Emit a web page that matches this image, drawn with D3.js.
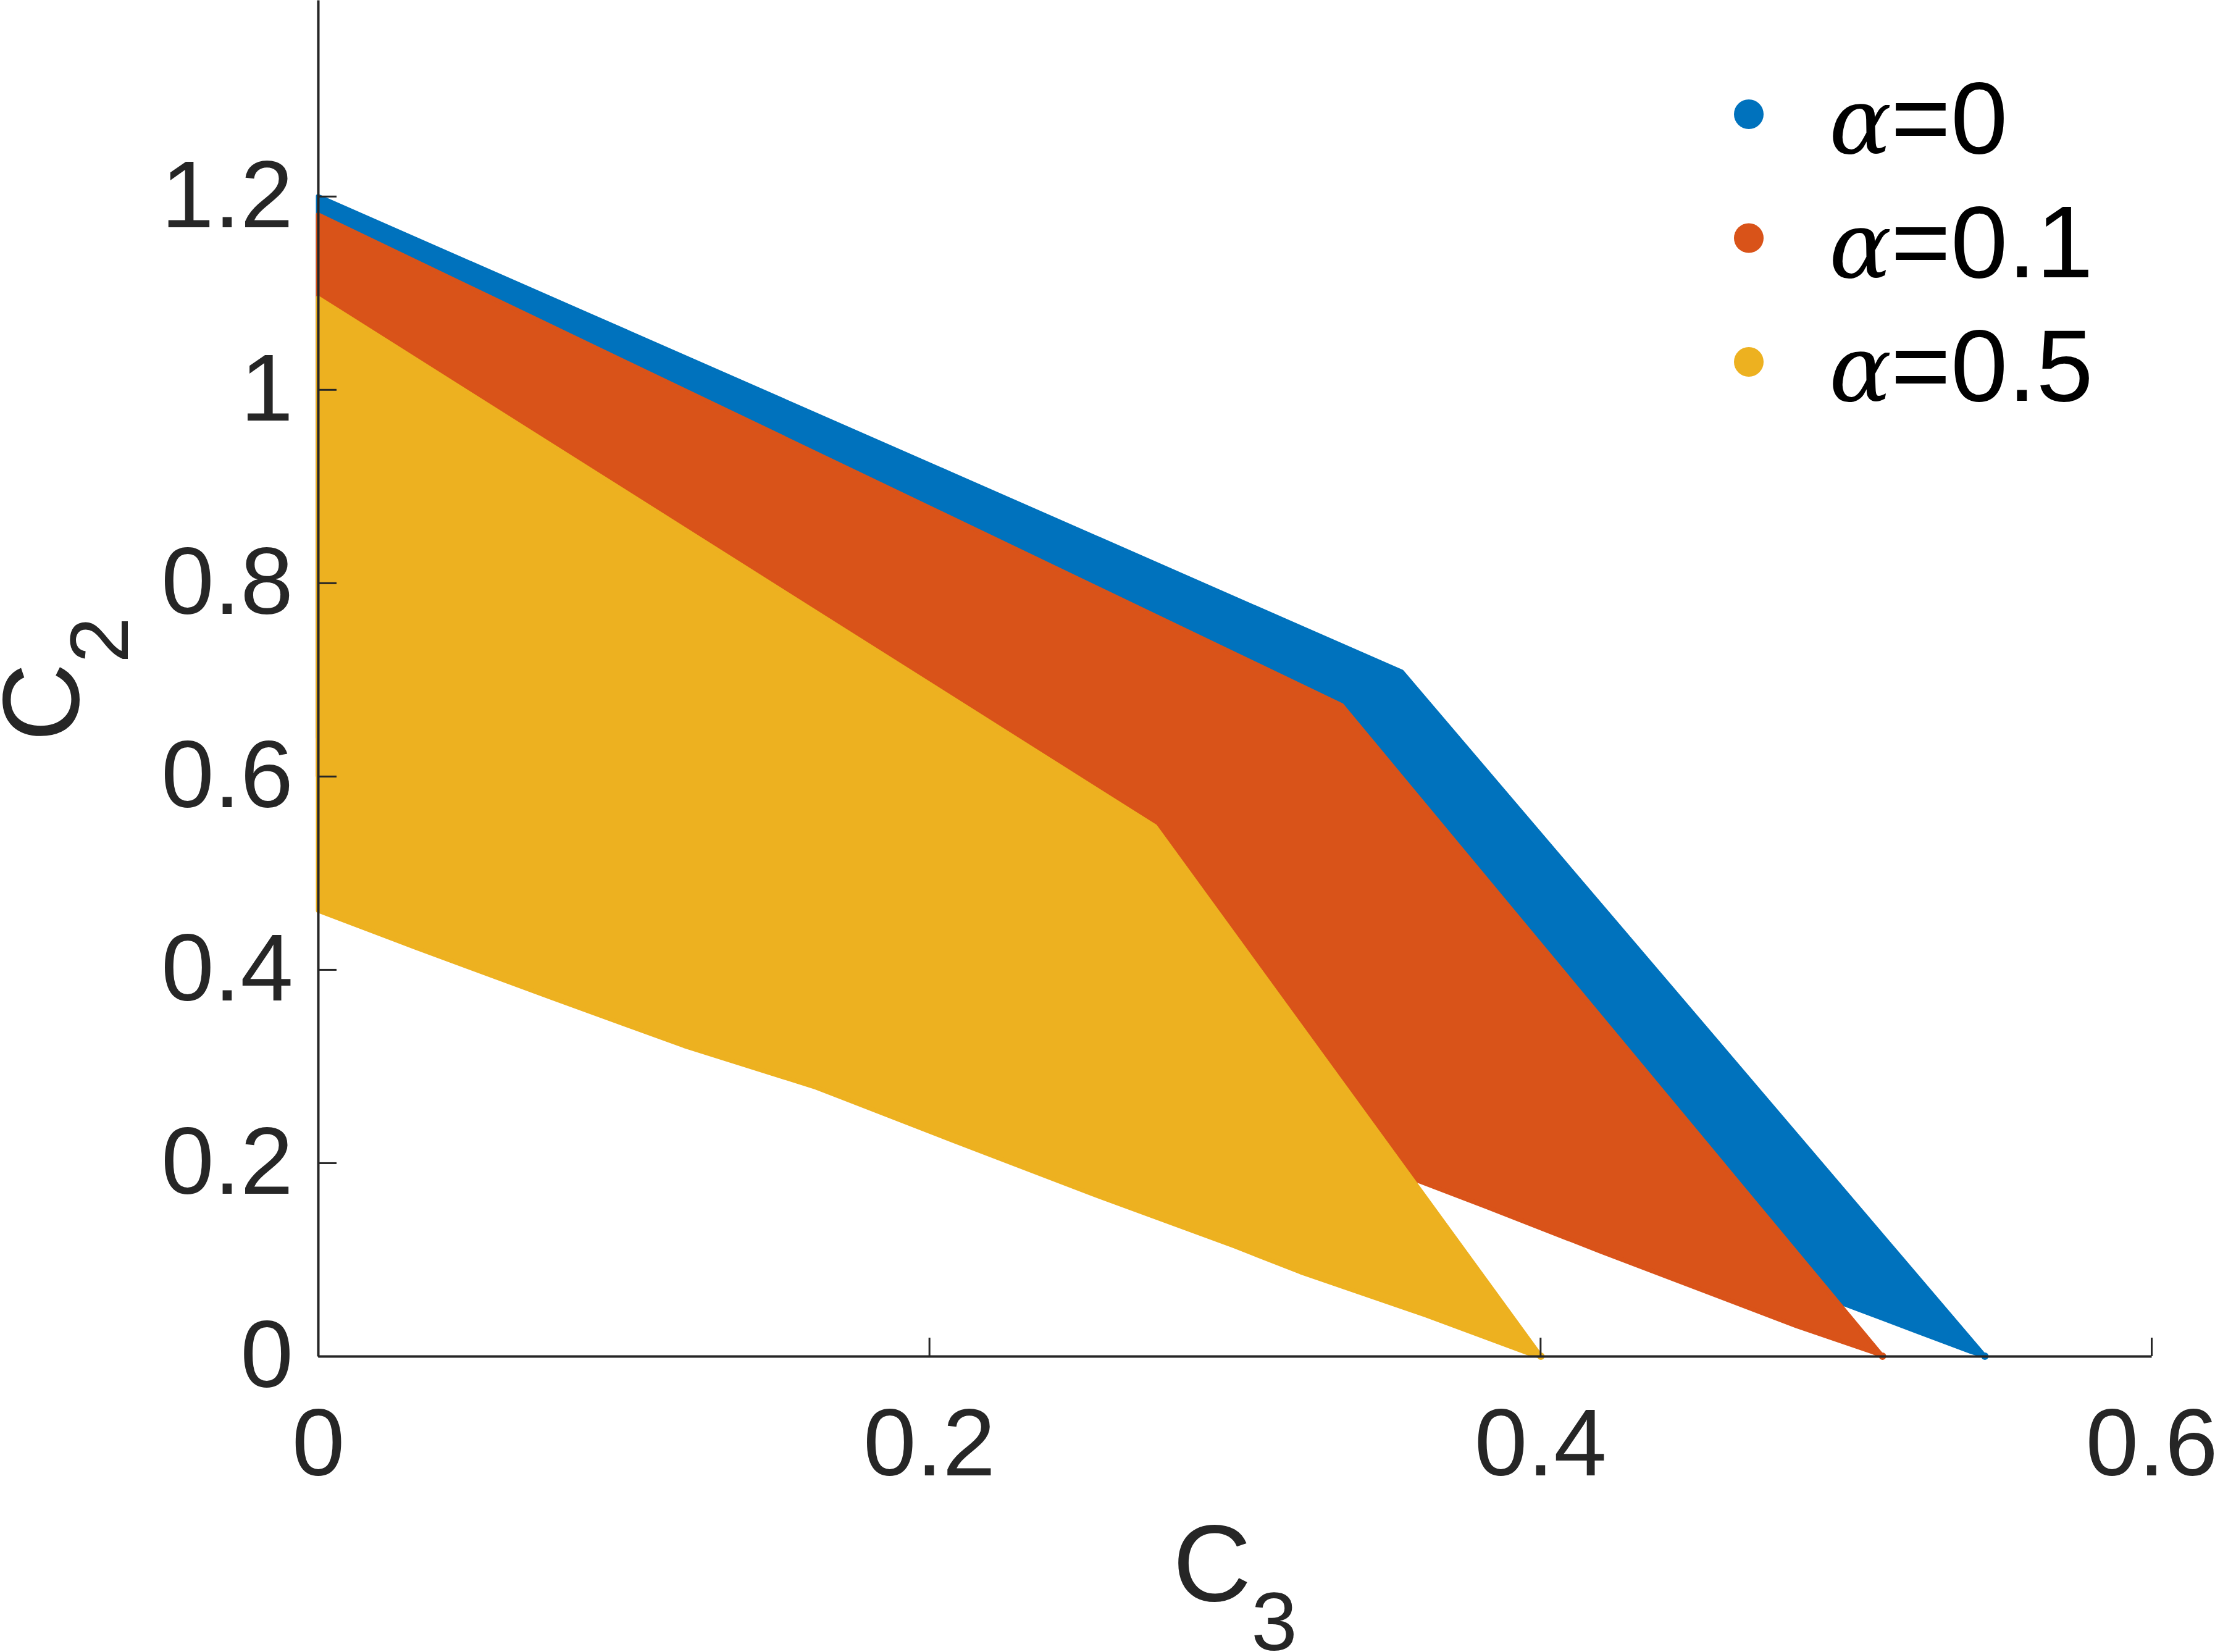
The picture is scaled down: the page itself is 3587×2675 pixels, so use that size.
<!DOCTYPE html>
<html>
<head>
<meta charset="utf-8">
<script src="https://cdn.jsdelivr.net/npm/d3@7"></script>
<style>
  html, body { margin: 0; padding: 0; background: #fff; }
  svg { display: block; }
</style>
</head>
<body>
<svg id="chart" width="3587" height="2675"></svg>
<script>
// ---- data (traced boundaries of each point cloud) ----
const seriesNames = ["0", "0.1", "0.5"];            // alpha values
const seriesColors = ["#0072BD", "#D95319", "#EDB120"];

// alpha = 0 (blue) outline: C3 and C2 values
const c3Alpha0 = [0, 0.3547, 0.5455, 0.541, 0.5232, 0.4996, 0];
const c2Alpha0 = [1.2, 0.708, 0, 0.0045, 0.0256, 0.0537, 0.64];

// alpha = 0.1 (orange) outline
const c3Alpha01 = [0, 0.335, 0.512, 0.509, 0.484, 0.42, 0.382, 0.3587, 0];
const c2Alpha01 = [1.181, 0.6735, 0, 0.004, 0.031, 0.108, 0.155, 0.183, 0.6];

// alpha = 0.5 (yellow) outline
const c3Alpha05 = [0, 0.274, 0.4002, 0.397, 0.3628, 0.3215, 0.2997, 0.2532, 0.2078, 0.163, 0.1198, 0.0762, 0.0317, 0];
const c2Alpha05 = [1.095, 0.548, 0, 0.002, 0.042, 0.087, 0.114, 0.168, 0.223, 0.278, 0.321, 0.371, 0.423, 0.461];

// end points lying on the C3 axis
const endC3 = [0.5455, 0.512, 0.4002];
const endC2 = [0, 0, 0];

const xTicks = [0, 0.2, 0.4, 0.6];
const xTickLabels = ["0", "0.2", "0.4", "0.6"];
const yTicks = [0, 0.2, 0.4, 0.6, 0.8, 1.0, 1.2];
const yTickLabels = ["0", "0.2", "0.4", "0.6", "0.8", "1", "1.2"];

// ---- drawing ----
const svg = d3.select("#chart");
const x = d3.scaleLinear().domain([0, 0.6]).range([515, 3484]);
const y = d3.scaleLinear().domain([0, 1.403]).range([2196, 0]);

const outlines = [
  {c3: c3Alpha0, c2: c2Alpha0},
  {c3: c3Alpha01, c2: c2Alpha01},
  {c3: c3Alpha05, c2: c2Alpha05}
];

const line = d3.line()
  .x(d => x(d[0]))
  .y(d => y(d[1]))
  .curve(d3.curveLinearClosed);

const gData = svg.append("g");
outlines.forEach((o, i) => {
  const pts = o.c3.map((v, k) => [v, o.c2[k]]);
  gData.append("path")
    .attr("d", line(pts))
    .attr("fill", seriesColors[i])
    .attr("stroke", seriesColors[i])
    .attr("stroke-width", 7)
    .attr("stroke-linejoin", "round");
});
endC3.forEach((v, i) => {
  gData.append("circle")
    .attr("cx", x(v)).attr("cy", y(endC2[i]))
    .attr("r", 6).attr("fill", seriesColors[i]);
});

const axisColor = "#262626";
const font = "'Liberation Sans', Arial, Helvetica, sans-serif";

const xAxis = d3.axisBottom(x)
  .tickValues(xTicks)
  .tickFormat((d, i) => xTickLabels[i])
  .tickSizeInner(-30).tickSizeOuter(0).tickPadding(84);
const gx = svg.append("g").attr("transform", "translate(0,2196)").call(xAxis);

const yAxis = d3.axisLeft(y)
  .tickValues(yTicks)
  .tickFormat((d, i) => yTickLabels[i])
  .tickSizeInner(-30).tickSizeOuter(0).tickPadding(40);
const gy = svg.append("g").attr("transform", "translate(515,0)").call(yAxis);

[gx, gy].forEach(g => {
  g.select(".domain").attr("stroke", axisColor).attr("stroke-width", 4);
  g.selectAll(".tick line").attr("stroke", axisColor).attr("stroke-width", 3);
  g.selectAll(".tick text")
    .attr("fill", axisColor)
    .style("font-family", font)
    .style("font-size", "154px");
});

// axis labels
const xl = svg.append("text")
  .attr("x", 2000).attr("y", 2592)
  .attr("text-anchor", "middle")
  .attr("fill", axisColor)
  .style("font-family", font).style("font-size", "176px");
xl.append("tspan").text("C");
xl.append("tspan").attr("dy", 80).style("font-size", "134px").text("3");

const yl = svg.append("text")
  .attr("transform", "translate(127,1100) rotate(-90)")
  .attr("text-anchor", "middle")
  .attr("fill", axisColor)
  .style("font-family", font).style("font-size", "176px");
yl.append("tspan").text("C");
yl.append("tspan").attr("dy", 80).style("font-size", "134px").text("2");

// legend
const legY = [185, 385.5, 586];
const leg = svg.append("g");
seriesNames.forEach((name, i) => {
  leg.append("circle")
    .attr("cx", 2832).attr("cy", legY[i]).attr("r", 24)
    .attr("fill", seriesColors[i]);
  leg.append("text")
    .attr("x", 2962).attr("y", legY[i] + 63)
    .attr("fill", "#000")
    .style("font-family", "'DejaVu Serif', serif")
    .style("font-style", "italic")
    .style("font-size", "150px")
    .text("α");
  leg.append("text")
    .attr("x", 3062).attr("y", legY[i] + 63)
    .attr("fill", "#000")
    .style("font-family", font)
    .style("font-size", "166px")
    .text("=" + name);
});
</script>
</body>
</html>
